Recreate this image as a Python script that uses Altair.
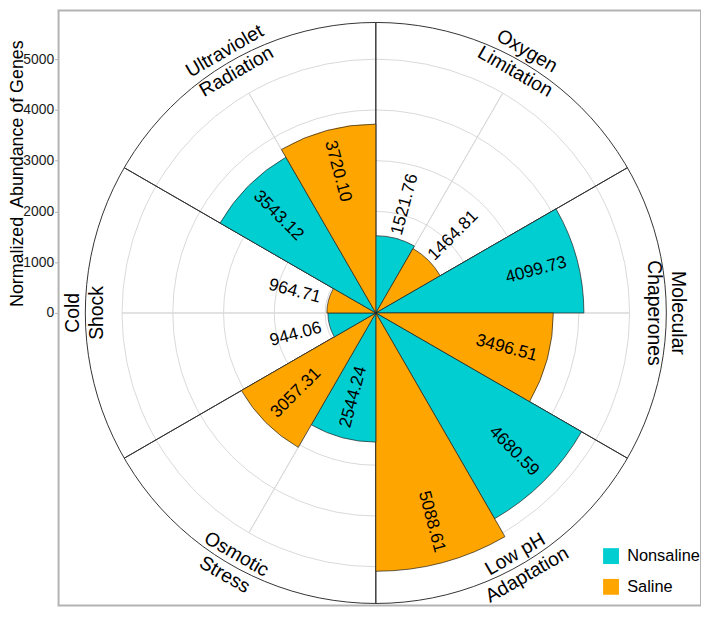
import math
import altair as alt
import pandas as pd

# ---------------- data ----------------
categories = ["Oxygen Limitation", "Molecular Chaperones", "Low pH Adaptation",
              "Osmotic Stress", "Cold Shock", "Ultraviolet Radiation"]
category_lines = ["Oxygen\nLimitation", "Molecular\nChaperones", "Low pH\nAdaptation",
                  "Osmotic\nStress", "Cold\nShock", "Ultraviolet\nRadiation"]
groups = ["Nonsaline", "Saline"]
nonsaline = [1521.76, 4099.73, 4680.59, 2544.24, 944.06, 3543.12]
saline = [1464.81, 3496.51, 5088.61, 3057.31, 964.71, 3720.10]
grid_values = [1000, 2000, 3000, 4000, 5000]
axis_ticks = [0, 1000, 2000, 3000, 4000, 5000]
colors = ["#00CED1", "#FFA500"]

# ---------------- layout constants ----------------
FONT = "Liberation Sans"
OUTER = 5723          # outer ring (data units)
CX, CY = 320, 305     # polar centre inside the plot area
W, H = 648, 600
Y_DOMAIN = [-5762, 5957]

n = len(categories)
sector = 360 / n
half = sector / 2

# ---------------- tables ----------------
bar_rows = []
for i, cat in enumerate(categories):
    for j, (g, vals) in enumerate(zip(groups, [nonsaline, saline])):
        v = vals[i]
        t1 = i * sector + j * half
        mid = t1 + half / 2
        rot = (mid - 90) if mid < 180 else (mid - 270)
        lr = v - 830 if v >= 2000 else v + 690
        bar_rows.append(dict(category=cat, group=g, value=v, t1=t1, t2=t1 + half,
                             mid=mid, rot=rot % 360, lr=lr, label=f"{v:.2f}"))
bars_df = pd.DataFrame(bar_rows)

cat_rows = []
for i, lab in enumerate(category_lines):
    c = i * sector + half
    rot = c - 180 if 90 < c < 270 else c
    cat_rows.append(dict(label=lab, theta=c, rot=rot % 360, r=OUTER))
cat_df = pd.DataFrame(cat_rows)

grid_df = pd.DataFrame({"r": grid_values, "t1": 0, "t2": 360})
outer_df = pd.DataFrame({"r": [OUTER], "t1": [0], "t2": [360]})
grey_spokes = pd.DataFrame({"t1": [i * sector + half for i in range(n)], "r": 5000})
black_spokes = pd.DataFrame({"t1": [i * sector for i in range(n)], "r": OUTER})
tick_df = pd.DataFrame({"v": axis_ticks})

theta_scale = alt.Scale(domain=[0, 360], range=[0, 2 * math.pi])
r_scale = alt.Scale(type="linear", domain=[0, 5000], range=[0, 256])
cx, cy = alt.value(CX), alt.value(CY)

def ring(df, color, width):
    return alt.Chart(df).mark_arc(filled=False, stroke=color, strokeWidth=width).encode(
        theta=alt.Theta("t1:Q", scale=theta_scale, stack=None),
        theta2="t2:Q",
        radius=alt.Radius("r:Q", scale=r_scale),
        x=cx, y=cy)

def spokes(df, color, width):
    return alt.Chart(df).mark_arc(filled=False, stroke=color, strokeWidth=width).encode(
        theta=alt.Theta("t1:Q", scale=theta_scale, stack=None),
        theta2="t1:Q",
        radius=alt.Radius("r:Q", scale=r_scale),
        x=cx, y=cy)

grid = ring(grid_df, "#d9d9d9", 1)
grey_sp = spokes(grey_spokes, "#d9d9d9", 1)
black_sp = spokes(black_spokes, "#333333", 1)
outer = ring(outer_df, "#333333", 1)

bars = alt.Chart(bars_df).mark_arc(stroke="#222222", strokeWidth=0.7).encode(
    theta=alt.Theta("t1:Q", scale=theta_scale, stack=None),
    theta2="t2:Q",
    radius=alt.Radius("value:Q", scale=r_scale),
    color=alt.Color("group:N", scale=alt.Scale(domain=groups, range=colors),
                    legend=alt.Legend(title=None, orient="none", legendX=549, legendY=542,
                                      symbolType="square", symbolSize=256,
                                      symbolStrokeWidth=0, symbolOpacity=1,
                                      labelFontSize=16.5, labelFont=FONT, labelColor="black",
                                      rowPadding=14, labelOffset=8, padding=0)),
    x=cx, y=cy)

value_text = alt.Chart(bars_df).mark_text(fontSize=17.5, font=FONT, color="black",
                                          align="center", baseline="middle").encode(
    theta=alt.Theta("mid:Q", scale=theta_scale, stack=None),
    radius=alt.Radius("lr:Q", scale=r_scale),
    angle=alt.Angle("rot:Q", scale=None),
    text="label:N",
    x=cx, y=cy)

cat_text = alt.Chart(cat_df).mark_text(fontSize=19.5, font=FONT, color="black",
                                       align="center", baseline="middle",
                                       lineBreak="\n", lineHeight=24, dy=-12).encode(
    theta=alt.Theta("theta:Q", scale=theta_scale, stack=None),
    radius=alt.Radius("r:Q", scale=r_scale),
    angle=alt.Angle("rot:Q", scale=None),
    text="label:N",
    x=cx, y=cy)

axis_layer = alt.Chart(tick_df).mark_point(opacity=0).encode(
    y=alt.Y("v:Q", scale=alt.Scale(domain=Y_DOMAIN, nice=False, zero=False),
            axis=alt.Axis(values=axis_ticks, format="d", grid=False, domain=False,
                          tickSize=4, tickColor="#b3b3b3", labelPadding=1,
                          labelFontSize=14, labelFont=FONT, labelColor="#1a1a1a",
                          title="Normalized\u00a0 Abundance of Genes",
                          titleFont=FONT, titleFontSize=18, titleFontWeight="normal",
                          titleColor="black", titleAngle=270, titleX=-41.5, titleY=164,
                          titleAlign="center", titleBaseline="middle")),
    x=alt.value(0))

chart = alt.layer(grid, grey_sp, black_sp, outer, bars, value_text, cat_text, axis_layer).properties(
    width=W, height=H,
    autosize=alt.AutoSizeParams(type="none"),
    padding={"left": 51, "top": 0, "right": 0, "bottom": 0},
).configure_view(stroke="#b3b3b3", strokeWidth=2)

chart.save("out.html", embed_options={"renderer": "svg", "actions": False})
